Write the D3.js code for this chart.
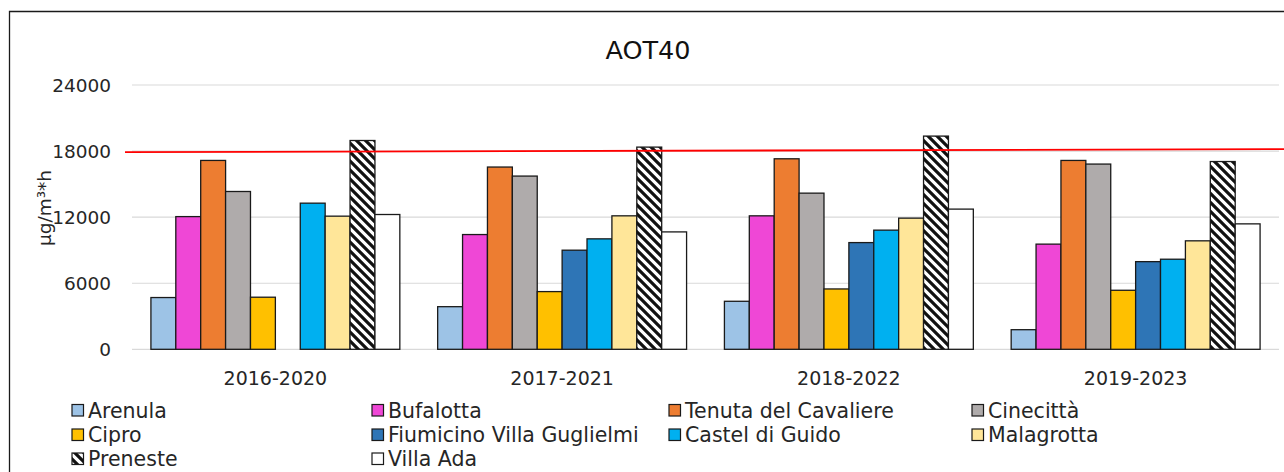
<!DOCTYPE html>
<html>
<head>
<meta charset="utf-8">
<script src="https://cdn.jsdelivr.net/npm/d3@7"></script>
<style>
  html, body { margin: 0; padding: 0; background: #ffffff; }
  svg { display: block; font-family: "DejaVu Sans", sans-serif; }
</style>
</head>
<body>
<svg id="chart" width="1284" height="472"></svg>
<script>
// ---- data ----
const categories = ["2016-2020", "2017-2021", "2018-2022", "2019-2023"];
const stations = ["Arenula", "Bufalotta", "Tenuta del Cavaliere", "Cinecittà", "Cipro",
  "Fiumicino Villa Guglielmi", "Castel di Guido", "Malagrotta", "Preneste", "Villa Ada"];
const arenula    = [4700, 3870, 4360, 1780];
const bufalotta  = [12050, 10420, 12120, 9550];
const tenuta     = [17150, 16550, 17300, 17150];
const cinecitta  = [14330, 15730, 14180, 16820];
const cipro      = [4730, 5240, 5480, 5360];
const fiumicino  = [null, 9000, 9690, 7960];
const castel     = [13270, 10030, 10820, 8180];
const malagrotta = [12090, 12120, 11910, 9850];
const preneste   = [18960, 18360, 19360, 17050];
const villaAda   = [12240, 10660, 12730, 11390];
const yTicks = [0, 6000, 12000, 18000, 24000];
const targetLine = [17900, 18180]; // red reference line (left end, right end)
const title = "AOT40";
const yTitle = "µg/m³*h";

const seriesValues = [arenula, bufalotta, tenuta, cinecitta, cipro, fiumicino, castel, malagrotta, preneste, villaAda];
const colors = ["#9DC3E6", "#EF47D6", "#ED7D31", "#AFABAB", "#FFC000", "#2E75B6", "#00B0F0", "#FFE699", "url(#hatch)", "#FFFFFF"];

// ---- layout ----
const svg = d3.select("#chart");
const plot = { left: 132, right: 1279, top: 85, bottom: 349.3 };
const textColor = "#262626";

const defs = svg.append("defs");
const pat = defs.append("pattern").attr("id", "hatch").attr("patternUnits", "userSpaceOnUse")
  .attr("width", 9).attr("height", 9);
pat.append("rect").attr("width", 9).attr("height", 9).attr("fill", "#fff");
pat.append("path").attr("d", "M-3,-3 L12,12 M-3,6 L3,12 M6,-3 L12,3")
  .attr("stroke", "#111").attr("stroke-width", 3.2);

// chart frame
svg.append("path").attr("d", "M9.5,472 L9.5,11.5 L1284,11.5")
  .attr("fill", "none").attr("stroke", "#1a1a1a").attr("stroke-width", 1.3);

const y = d3.scaleLinear().domain([0, 24000]).range([plot.bottom, plot.top]);
const x0 = d3.scaleBand().domain(categories).range([plot.left, plot.right]).padding(0);
const x1 = d3.scaleBand().domain(stations).range([0, x0.bandwidth()]).paddingInner(0).paddingOuter(0.76);

// gridlines
svg.append("g").selectAll("line").data(yTicks).join("line")
  .attr("x1", plot.left).attr("x2", plot.right)
  .attr("y1", d => y(d)).attr("y2", d => y(d))
  .attr("stroke", "#d9d9d9").attr("stroke-width", 1.2);

// y tick labels
svg.append("g").selectAll("text").data(yTicks).join("text")
  .attr("x", 111).attr("y", d => y(d)).attr("dy", "0.36em")
  .attr("text-anchor", "end").attr("font-size", 18.5).attr("fill", textColor)
  .text(d => d);

// y title
svg.append("text").attr("transform", "translate(51,208) rotate(-90)")
  .attr("text-anchor", "middle").attr("font-size", 18.5).attr("fill", textColor).text(yTitle);

// title
svg.append("text").attr("x", 648).attr("y", 59).attr("text-anchor", "middle")
  .attr("font-size", 25.5).attr("fill", "#111").text(title);

// bars
const barData = [];
categories.forEach((c, ci) => {
  stations.forEach((s, si) => {
    const v = seriesValues[si][ci];
    if (v != null) barData.push({ c, s, si, v });
  });
});
svg.append("g").selectAll("rect").data(barData).join("rect")
  .attr("x", d => x0(d.c) + x1(d.s))
  .attr("y", d => y(d.v))
  .attr("width", x1.bandwidth())
  .attr("height", d => y(0) - y(d.v))
  .attr("fill", d => colors[d.si])
  .attr("stroke", "#1a1a1a").attr("stroke-width", 1.3);

// red reference line
svg.append("line")
  .attr("x1", 125).attr("x2", 1284)
  .attr("y1", y(targetLine[0])).attr("y2", y(targetLine[1]))
  .attr("stroke", "#FF0000").attr("stroke-width", 1.8);

// category labels
svg.append("g").selectAll("text").data(categories).join("text")
  .attr("x", d => x0(d) + x0.bandwidth() / 2).attr("y", 385)
  .attr("text-anchor", "middle").attr("font-size", 19).attr("fill", textColor)
  .text(d => d);

// legend
const colX = [72, 372, 669, 972];
const rowY = [410.5, 435, 459];
const leg = svg.append("g").selectAll("g").data(stations).join("g")
  .attr("transform", (d, i) => `translate(${colX[i % 4]},${rowY[Math.floor(i / 4)]})`);
leg.append("rect").attr("x", 0).attr("y", -6).attr("width", 11.5).attr("height", 11.5)
  .attr("fill", (d, i) => colors[i]).attr("stroke", "#1a1a1a").attr("stroke-width", 1.2);
leg.append("text").attr("x", 16).attr("y", 0).attr("dy", "0.36em")
  .attr("font-size", 20.5).attr("fill", textColor).text(d => d);
</script>
</body>
</html>
